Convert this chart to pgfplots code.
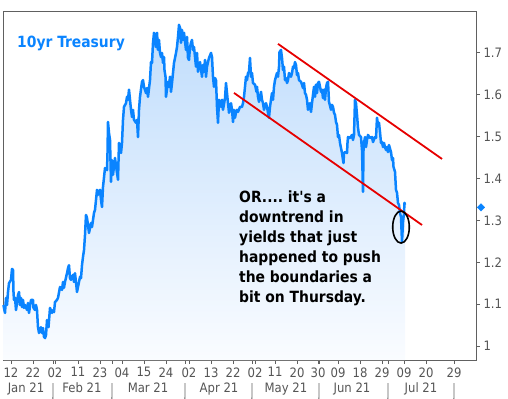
\documentclass[border=0pt]{standalone}
\usepackage{pgfplots}
\pgfplotsset{compat=1.18}
\usepackage{pgfplotstable}
\usepackage{fontspec}
\setmainfont{DejaVu Sans Condensed}
\frenchspacing
\definecolor{tsblue}{RGB}{10,132,255}
\definecolor{axgray}{RGB}{96,96,96}
\definecolor{lblgray}{RGB}{85,85,85}
\definecolor{trred}{RGB}{230,0,0}
\definecolor{filltop}{RGB}{192,221,252}
\definecolor{fillbot}{RGB}{250,252,255}

% x: position along the trading-day axis (chart units), y: 10yr yield (%)
\pgfplotstableread{
x y
3.5 1.098
4 1.091
5 1.079
6 1.115
7 1.098
8 1.129
9 1.150
11 1.158
12 1.184
13 1.182
13.5 1.129
14 1.110
15 1.115
16 1.086
17 1.103
18 1.122
19 1.129
20 1.098
21 1.115
22 1.093
23 1.110
24 1.091
25 1.098
27 1.086
28 1.103
29 1.079
31 1.110
33 1.110
33.5 1.091
35 1.086
36 1.098
37 1.086
38 1.045
39 1.031
41 1.045
42 1.031
43 1.043
44 1.022
45 1.019
46 1.026
47 1.062
48.5 1.045
50 1.091
52 1.079
53 1.086
54 1.081
55 1.105
57 1.110
58 1.115
60 1.141
62 1.134
63 1.153
64 1.139
65 1.153
67 1.174
68 1.186
69 1.193
70 1.162
71 1.158
73 1.170
74 1.153
75 1.174
76.5 1.141
77 1.129
79 1.153
80 1.165
81 1.162
82 1.193
83 1.213
84 1.229
85 1.265
86 1.313
87 1.306
88 1.289
89 1.270
91 1.294
92 1.284
93 1.301
94 1.318
95 1.325
96 1.349
97 1.373
98 1.361
100 1.373
101 1.349
102 1.332
103 1.380
105 1.425
107 1.420
107.5 1.461
108 1.535
109 1.509
110 1.492
111 1.392
112 1.444
113 1.409
115 1.449
117 1.413
118 1.397
119 1.485
121 1.461
122 1.485
123 1.540
124 1.571
126 1.580
127 1.595
128 1.588
129 1.612
130 1.588
131 1.564
132 1.547
133 1.564
134 1.540
136 1.533
137 1.540
138 1.499
139 1.564
140 1.595
142 1.631
143 1.635
144 1.619
146 1.604
147 1.616
148 1.595
150 1.635
151 1.678
152 1.676
153 1.724
154 1.748
156 1.714
157 1.748
158 1.707
159 1.731
160 1.700
161 1.690
162 1.700
163 1.676
164 1.690
164.5 1.659
165.5 1.643
166 1.595
168 1.631
169 1.619
170 1.643
171 1.607
172 1.628
173 1.652
174 1.676
176 1.700
177 1.714
178 1.738
179 1.767
180 1.760
181 1.724
182 1.755
183 1.731
184 1.748
186 1.707
187 1.738
188 1.688
189 1.683
190 1.714
191 1.724
192 1.731
193 1.707
194 1.714
196 1.667
197 1.700
198 1.655
199 1.671
200 1.678
202 1.643
203 1.671
204 1.655
205 1.683
206 1.643
207 1.667
208 1.678
209 1.688
211 1.700
212 1.690
213 1.643
214 1.619
215 1.640
216 1.635
217 1.571
218 1.533
219 1.588
221 1.571
222 1.588
223 1.564
225 1.592
226 1.628
227 1.604
228 1.580
229 1.557
231 1.580
232 1.564
233 1.535
234 1.564
235 1.545
236 1.557
237 1.564
238 1.559
240 1.571
242 1.571
243 1.580
244 1.595
245 1.619
246 1.643
247 1.635
248 1.652
249 1.655
250 1.688
251 1.643
252 1.652
253 1.628
255 1.624
256.5 1.607
257 1.619
258 1.595
259 1.583
261 1.607
262 1.588
263 1.580
264 1.564
266 1.580
267 1.571
268 1.557
269 1.545
270 1.571
271 1.588
272 1.604
273 1.588
274 1.619
275 1.635
277 1.652
278 1.643
279 1.667
279.5 1.702
281 1.707
282 1.688
283 1.659
284 1.667
285 1.635
286 1.640
287 1.628
288 1.635
289 1.652
291 1.643
292 1.652
293 1.667
294 1.664
295 1.678
296 1.671
297 1.647
298 1.652
299 1.635
301 1.631
302 1.624
303 1.616
304 1.628
305 1.604
306 1.600
307 1.588
308 1.564
310 1.580
311 1.559
312 1.580
313 1.600
314 1.619
315 1.595
316 1.624
317 1.604
318 1.628
319 1.631
321 1.607
322 1.612
323 1.592
324 1.612
325 1.588
326 1.616
327 1.628
328 1.631
329 1.583
331 1.564
332 1.576
333 1.571
334 1.557
335 1.552
336 1.535
337 1.528
338 1.499
339 1.504
340 1.485
342 1.461
343 1.444
343.5 1.437
344 1.461
345 1.463
347 1.461
347.5 1.485
348 1.499
350 1.497
352 1.504
353 1.492
354 1.504
355 1.588
356 1.580
357 1.552
358 1.521
359 1.504
361 1.499
362 1.468
363 1.368
363.5 1.468
364 1.485
365 1.499
366 1.475
367 1.492
368 1.504
370 1.497
372 1.499
373 1.487
375 1.499
376 1.497
377 1.545
378 1.528
379 1.533
380 1.511
381 1.485
382 1.487
383 1.475
384 1.485
385 1.475
386 1.468
387 1.475
388 1.463
389 1.480
391 1.463
392 1.444
393 1.449
393.5 1.428
395 1.416
396 1.373
397 1.366
398 1.342
399 1.337
400 1.318
401 1.308
402 1.248
403 1.296
404 1.318
404.5 1.342
405 1.337
}\yields

\begin{document}
\begin{tikzpicture}
\path[use as bounding box] (0,0) rectangle (508bp,399bp);
\begin{axis}[
  at={(3bp,39bp)}, anchor=south west, scale only axis,
  width=473bp, height=349bp,
  xmin=3, xmax=476, ymin=0.9666, ymax=1.8,
  clip=false,
  axis line style={axgray, line width=0.8bp},
  tick align=outside,
  major tick length=4bp,
  minor tick length=4bp,
  every tick/.style={axgray, line width=0.8bp},
  xtick pos=lower, ytick pos=upper,
  yticklabel pos=upper,
  xtick={11,33,55,78,100,122,144,166,189,211,233,255,275,297,318,338,360,382,404,426,454},
  xticklabels={12,22,02,11,23,04,15,24,02,13,22,02,11,20,30,09,18,29,09,20,29},
  minor xtick={53,112,185,252,319,388},
  extra x ticks={26,82,148,219,286,352,421},
  extra x tick labels={Jan 21,Feb 21,Mar 21,Apr 21,May 21,Jun 21,Jul 21},
  extra x tick style={major tick length=0pt, tick label style={yshift=-19bp}},
  ytick={1,1.1,1.2,1.3,1.4,1.5,1.6,1.7},
  yticklabels={1,1.1,1.2,1.3,1.4,1.5,1.6,1.7},
  tick label style={font=\fontsize{13}{15}\selectfont, text=lblgray},
  /pgf/number format/assume math mode=true,
]
\addplot[draw=none, top color=filltop, bottom color=fillbot, mark=none, forget plot]
  table {\yields} -- (axis cs:405,0.9666) -- (axis cs:3.5,0.9666) -- cycle;
\addplot[tsblue, line width=2.5bp, mark=none, line join=round] table {\yields};
\addplot[trred, line width=1.8bp, mark=none] coordinates {(278,1.7215) (442,1.4467)};
\addplot[trred, line width=1.8bp, mark=none] coordinates {(234,1.6044) (422,1.2890)};
\addplot[only marks, mark=square*, mark size=2.6bp, mark options={rotate=45, fill=tsblue, draw=tsblue}] coordinates {(481,1.331)};
\draw[black, line width=1.6bp] (axis cs:401,1.284) ellipse [x radius=8.3bp, y radius=16bp];
\draw[axgray, line width=0.8bp] ([yshift=-23bp]axis cs:53,0.9666) -- ++(0,-15bp);
\draw[axgray, line width=0.8bp] ([yshift=-23bp]axis cs:112,0.9666) -- ++(0,-15bp);
\draw[axgray, line width=0.8bp] ([yshift=-23bp]axis cs:185,0.9666) -- ++(0,-15bp);
\draw[axgray, line width=0.8bp] ([yshift=-23bp]axis cs:252,0.9666) -- ++(0,-15bp);
\draw[axgray, line width=0.8bp] ([yshift=-23bp]axis cs:319,0.9666) -- ++(0,-15bp);
\draw[axgray, line width=0.8bp] ([yshift=-23bp]axis cs:388,0.9666) -- ++(0,-15bp);
\draw[axgray, line width=0.8bp] ([yshift=-23bp]axis cs:454,0.9666) -- ++(0,-15bp);
\end{axis}
\node[anchor=base west, text=tsblue, font=\fontsize{15.5}{18}\selectfont\bfseries, inner sep=0] at (17bp,351bp) {10yr Treasury};
\begin{scope}[every node/.style={anchor=base west, text=black, font=\fontsize{15.5}{18}\selectfont\bfseries, inner sep=0}]
\node at (239bp,196bp) {OR.... it\textquotesingle s a};
\node at (239bp,176bp) {downtrend in};
\node at (239bp,156bp) {yields that just};
\node at (239bp,136bp) {happened to push};
\node at (239bp,116bp) {the boundaries a};
\node at (239bp,96bp) {bit on Thursday.};
\end{scope}
\end{tikzpicture}
\end{document}
